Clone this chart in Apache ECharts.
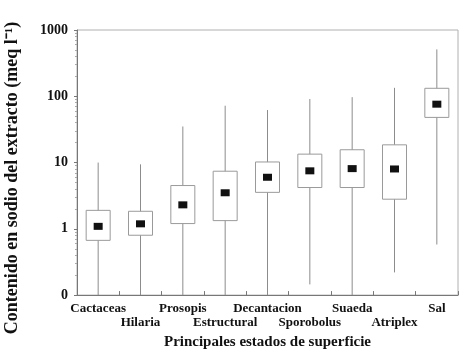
<!DOCTYPE html>
<html lang="es">
<head>
	<meta charset="UTF-8">
	<title>Sodio</title>
	<style>
		html, body { margin: 0; padding: 0; background: #fff; }
		#main { width: 461px; height: 355px; }
	</style>
	<script src="https://cdn.jsdelivr.net/npm/echarts@6/dist/echarts.min.js"></script>
</head>
<body>
	<div id="main"></div>
	<script>
		// estados de superficie
		var categories = ['Cactaceas', 'Hilaria', 'Prosopis', 'Estructural', 'Decantacion', 'Sporobolus', 'Suaeda', 'Atriplex', 'Sal'];
		// meq l-1 (0.1 = fondo del eje)
		var whiskerLow  = [0.1, 0.1, 0.1, 0.1, 0.1, 0.145, 0.1, 0.22, 0.58];
		var boxLow      = [0.67, 0.80, 1.2, 1.33, 3.55, 4.2, 4.2, 2.8, 48];
		var median      = [1.09, 1.19, 2.3, 3.5, 6.0, 7.5, 8.1, 8.0, 76];
		var boxHigh     = [1.9, 1.84, 4.5, 7.4, 10.2, 13.4, 15.6, 18.5, 132];
		var whiskerHigh = [10, 9.4, 35, 72, 62, 91, 97, 134, 510];

		var data = categories.map(function (c, i) {
			return [i, whiskerLow[i], boxLow[i], median[i], boxHigh[i], whiskerHigh[i]];
		});

		var serif = 'Liberation Serif';
		var myChart = echarts.init(document.getElementById('main'));

		function renderBox(params, api) {
			var idx = api.value(0);
			var lo = api.coord([idx, api.value(1)]);
			var q1 = api.coord([idx, api.value(2)]);
			var md = api.coord([idx, api.value(3)]);
			var q3 = api.coord([idx, api.value(4)]);
			var hi = api.coord([idx, api.value(5)]);
			var x = lo[0];
			var w = 24;
			return {
				type: 'group',
				children: [
					{ type: 'line', shape: { x1: x, y1: hi[1], x2: x, y2: lo[1] },
						style: { stroke: '#8c8c8c', lineWidth: 1 } },
					{ type: 'rect', shape: { x: x - w / 2, y: q3[1], width: w, height: q1[1] - q3[1] },
						style: { fill: '#fff', stroke: '#9a9a9a', lineWidth: 1 } },
					{ type: 'rect', shape: { x: x - 4.5, y: md[1] - 3.5, width: 9, height: 7 },
						style: { fill: '#111' } }
				]
			};
		}

		var option = {
			animation: false,
			grid: {
				left: 77, right: 3, top: 30, bottom: 59,
				show: true, borderColor: '#b0b0b0', borderWidth: 1
			},
			xAxis: {
				type: 'category',
				data: categories,
				name: 'Principales estados de superficie',
				nameLocation: 'middle',
				nameGap: 39,
				nameTextStyle: { fontFamily: serif, fontSize: 15, fontWeight: 'bold', color: '#111' },
				axisLine: { lineStyle: { color: '#777' } },
				axisTick: { show: true, inside: true, length: 4, lineStyle: { color: '#777' } },
				axisLabel: {
					interval: 0,
					margin: 7,
					fontFamily: serif, fontSize: 13, fontWeight: 'bold', color: '#111', lineHeight: 14,
					formatter: function (v, i) { return i % 2 ? '\n' + v : v; }
				},
				splitLine: { show: false }
			},
			yAxis: {
				type: 'log',
				logBase: 10,
				min: 0.1,
				max: 1000,
				axisLine: { show: true, lineStyle: { color: '#777' } },
				axisTick: { show: true, inside: false, length: 3, lineStyle: { color: '#777' } },
				minorTick: { show: true, splitNumber: 9, length: 2, lineStyle: { color: '#aaa' } },
				axisLabel: {
					margin: 9,
					fontFamily: serif, fontSize: 14, fontWeight: 'bold', color: '#111',
					formatter: function (v) { return v < 1 ? '0' : String(Math.round(v)); }
				},
				splitLine: { show: false }
			},
			graphic: [{
				type: 'text',
				x: 12, y: 178,
				rotation: Math.PI / 2,
				style: {
					text: 'Contenido en sodio del extracto (meq l\u207B\u00B9)',
					fontFamily: serif, fontSize: 18, fontWeight: 'bold', fill: '#111',
					align: 'center', verticalAlign: 'middle'
				}
			}],
			series: [{
				type: 'custom',
				renderItem: renderBox,
				encode: { x: 0, y: [1, 2, 3, 4, 5] },
				data: data
			}]
		};

		myChart.setOption(option);
	</script>
</body>
</html>
